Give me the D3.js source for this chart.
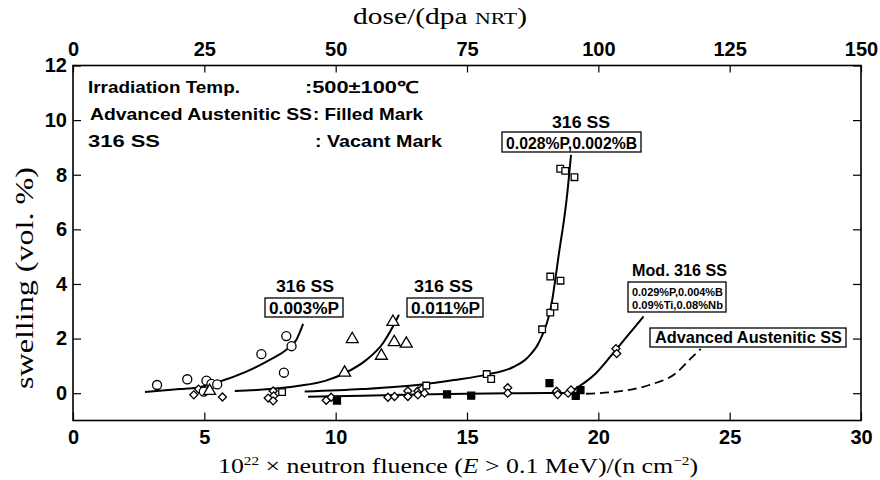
<!DOCTYPE html>
<html>
<head>
<meta charset="utf-8">
<script src="https://cdn.jsdelivr.net/npm/d3@7"></script>
<style>
  body { margin: 0; background: #fff; }
  svg { display: block; }
  .tick text { font-family: "Liberation Sans", Arial, sans-serif; font-weight: bold; font-size: 20px; fill: #000; }
  .tick line { stroke: #000; stroke-width: 1.2; }
  .lbl { font-family: "Liberation Sans", Arial, sans-serif; font-weight: bold; fill: #000; }
  .serif { font-family: "Liberation Serif", "Times New Roman", serif; fill: #000; }
</style>
</head>
<body>
<div id="chart"></div>
<script>
// ticks
var xTicks = [0, 5, 10, 15, 20, 25, 30];
var doseTicks = [0, 25, 50, 75, 100, 125, 150];
var yTicks = [0, 2, 4, 6, 8, 10, 12];

// 316 SS 0.003%P (open circles)
var circles003 = [[3.2,0.3],[4.35,0.51],[5.08,0.46],[5.27,0.34],[5.49,0.32],[4.98,0.06],[7.17,1.43],[8.03,0.75],[8.12,2.09],[8.32,1.72]];
// 316 SS 0.011%P (open triangles)
var triangles011 = [[5.2,0.08],[10.34,0.75],[10.63,1.98],[11.74,1.37],[12.23,1.87],[12.69,1.81],[12.18,2.61]];
// 316 SS 0.028%P,0.002%B (open squares)
var squares028 = [[7.96,0.04],[13.45,0.28],[15.75,0.7],[15.92,0.52],[17.86,2.34],[18.17,2.95],[18.33,3.17],[18.17,4.27],[18.56,4.12],[18.55,8.22],[18.74,8.14],[19.09,7.91]];
// Mod. 316 SS (open diamonds)
var diamondsMod = [[4.6,-0.06],[4.78,0.15],[5.69,-0.14],[7.62,0.08],[7.64,-0.1],[7.43,-0.18],[7.62,-0.28],[9.64,-0.26],[9.83,-0.15],[11.99,-0.15],[12.24,-0.12],[12.75,0.08],[12.75,-0.12],[13.13,0.08],[13.13,-0.06],[13.29,0.16],[13.38,0.0],[16.55,0.2],[16.55,0.0],[18.41,0.07],[18.45,-0.05],[18.85,0.0],[18.96,0.12],[20.67,1.63],[20.7,1.45]];
// Advanced Austenitic SS (filled squares)
var filledAdv = [[10.05,-0.27],[14.24,-0.04],[15.16,-0.09],[18.14,0.37],[19.14,-0.1],[19.32,0.11]];

// fitted curves
var curve003 = [[2.74,0.04],[4.07,0.15],[4.7,0.2],[5.59,0.43],[6.6,0.79],[7.49,1.22],[8.12,1.59],[8.5,1.95],[8.76,2.54]];
var curve011 = [[6.16,0.08],[7.5,0.15],[8.6,0.27],[9.6,0.45],[10.34,0.73],[11.17,1.22],[11.8,1.83],[12.18,2.44],[12.41,2.87]];
var curve028 = [[8.82,0.06],[11,0.15],[13.19,0.31],[14.5,0.48],[15.75,0.68],[16.74,0.95],[17.3,1.3],[17.76,1.9],[18.2,3.17],[18.52,5.25],[18.71,6.47],[18.79,7.08],[18.96,8.73]];
var curveAdv = [[8.95,-0.13],[11,-0.09],[13,-0.05],[15,-0.02],[17,0],[18.9,0.01]];
var curveMod = [[18.96,0.06],[19.91,0.73],[20.67,1.59],[21.3,2.32],[21.72,2.81]];
var curveAdvDash = [[19.53,-0.02],[20.04,0],[21.94,0.3],[22.95,0.73],[23.59,1.34],[23.9,1.62]];

var width = 880, height = 480;

var svg = d3.select("#chart").append("svg")
  .attr("width", width)
  .attr("height", height);

var x = d3.scaleLinear().domain([0, 30]).range([73, 861]);
var xTop = d3.scaleLinear().domain([0, 150]).range([73, 861]);
var y = d3.scaleLinear().domain([-1, 12]).range([420.5, 65.5]);

// axes
svg.append("g")
  .attr("transform", "translate(0," + y(-1) + ")")
  .call(d3.axisBottom(x).tickValues(xTicks).tickSize(-8).tickPadding(9))
  .call(g => g.select(".domain").remove());

svg.append("g")
  .attr("transform", "translate(0," + y(12) + ")")
  .call(d3.axisTop(xTop).tickValues(doseTicks).tickSize(-7).tickPadding(10))
  .call(g => g.select(".domain").remove());

svg.append("g")
  .attr("transform", "translate(" + x(0) + ",0)")
  .call(d3.axisLeft(y).tickValues(yTicks).tickSize(-8).tickPadding(6))
  .call(g => g.select(".domain").remove());

svg.append("g")
  .attr("transform", "translate(" + x(30) + ",0)")
  .call(d3.axisRight(y).tickValues(yTicks).tickSize(-8).tickFormat(""))
  .call(g => g.select(".domain").remove());

// frame
svg.append("rect")
  .attr("x", x(0)).attr("y", y(12))
  .attr("width", x(30) - x(0)).attr("height", y(-1) - y(12))
  .attr("fill", "none").attr("stroke", "#000").attr("stroke-width", 1.6);

// axis titles
svg.append("text").attr("class", "serif")
  .attr("x", 440).attr("y", 24).attr("text-anchor", "middle")
  .attr("font-size", 23).attr("textLength", 174).attr("lengthAdjust", "spacingAndGlyphs")
  .html('dose/(dpa <tspan font-size="17">NRT</tspan>)');

svg.append("text").attr("class", "serif")
  .attr("transform", "translate(33,278) rotate(-90)")
  .attr("text-anchor", "middle")
  .attr("font-size", 25).attr("textLength", 222).attr("lengthAdjust", "spacingAndGlyphs")
  .text("swelling (vol. %)");

svg.append("text").attr("class", "serif")
  .attr("x", 218).attr("y", 473)
  .attr("font-size", 22).attr("textLength", 480).attr("lengthAdjust", "spacingAndGlyphs")
  .html('10<tspan dy="-8" font-size="13">22</tspan><tspan dy="8"> × neutron fluence (</tspan><tspan font-style="italic">E</tspan> &gt; 0.1 MeV)/(n cm<tspan dy="-8" font-size="13">−2</tspan><tspan dy="8">)</tspan>');

// curves
var line = d3.line().x(d => x(d[0])).y(d => y(d[1])).curve(d3.curveMonotoneX);
[curve003, curve011, curve028, curveAdv, curveMod].forEach(function(c) {
  svg.append("path").datum(c)
    .attr("d", line)
    .attr("fill", "none").attr("stroke", "#000").attr("stroke-width", 2);
});
svg.append("path").datum(curveAdvDash)
  .attr("d", line)
  .attr("fill", "none").attr("stroke", "#000").attr("stroke-width", 1.8)
  .attr("stroke-dasharray", "9,5");

// markers
function marks(data, type, size, fill, rot) {
  svg.append("g").selectAll("path")
    .data(data)
    .join("path")
      .attr("d", d3.symbol().type(type).size(size))
      .attr("transform", d => "translate(" + x(d[0]) + "," + y(d[1]) + ")" + (rot ? " rotate(" + rot + ")" : ""))
      .attr("fill", fill)
      .attr("stroke", "#000")
      .attr("stroke-width", 1.3);
}
marks(diamondsMod, d3.symbolSquare, 32, "#fff", 45);
marks(circles003, d3.symbolCircle, 64, "#fff");
marks(triangles011, d3.symbolTriangle, 62, "#fff");
marks(squares028, d3.symbolSquare, 44, "#fff");
marks(filledAdv, d3.symbolSquare, 48, "#000");

// labels
function label(px, py, str, size, len) {
  var t = svg.append("text").attr("class", "lbl")
    .attr("x", px).attr("y", py)
    .attr("font-size", size)
    .text(str);
  if (len) t.attr("textLength", len).attr("lengthAdjust", "spacingAndGlyphs");
  return t;
}
function box(x0, y0, x1, y1) {
  svg.append("rect")
    .attr("x", x0).attr("y", y0).attr("width", x1 - x0).attr("height", y1 - y0)
    .attr("fill", "#fff").attr("stroke", "#000").attr("stroke-width", 1.3);
}

label(88, 93, "Irradiation Temp.", 16.5, 152);
label(305, 93, ":500±100℃", 16.5, 113);
label(90, 120, "Advanced Austenitic SS", 16.5, 222);
label(313, 120, ": Filled Mark", 16.5, 110);
label(88, 147, "316 SS", 16.5, 72);
label(315, 147, ": Vacant Mark", 16.5, 127);

label(276, 292, "316 SS", 16, 58);
box(265, 298, 343, 317);
label(269, 314, "0.003%P", 16, 70);

label(414, 292, "316 SS", 16, 59);
box(407, 298, 483, 317);
label(411, 314, "0.011%P", 16, 69);

label(552, 128, "316 SS", 16, 58);
box(502, 132, 641, 152);
label(506, 148.5, "0.028%P,0.002%B", 16, 131);

label(632, 276, "Mod. 316 SS", 16, 95);
box(628, 282, 726, 312);
label(632, 295.5, "0.029%P,0.004%B", 11.5, 91);
label(632, 308.5, "0.09%Ti,0.08%Nb", 11.5, 91);

box(650, 328, 846, 347);
label(655, 343, "Advanced Austenitic SS", 17, 187);
</script>
</body>
</html>
